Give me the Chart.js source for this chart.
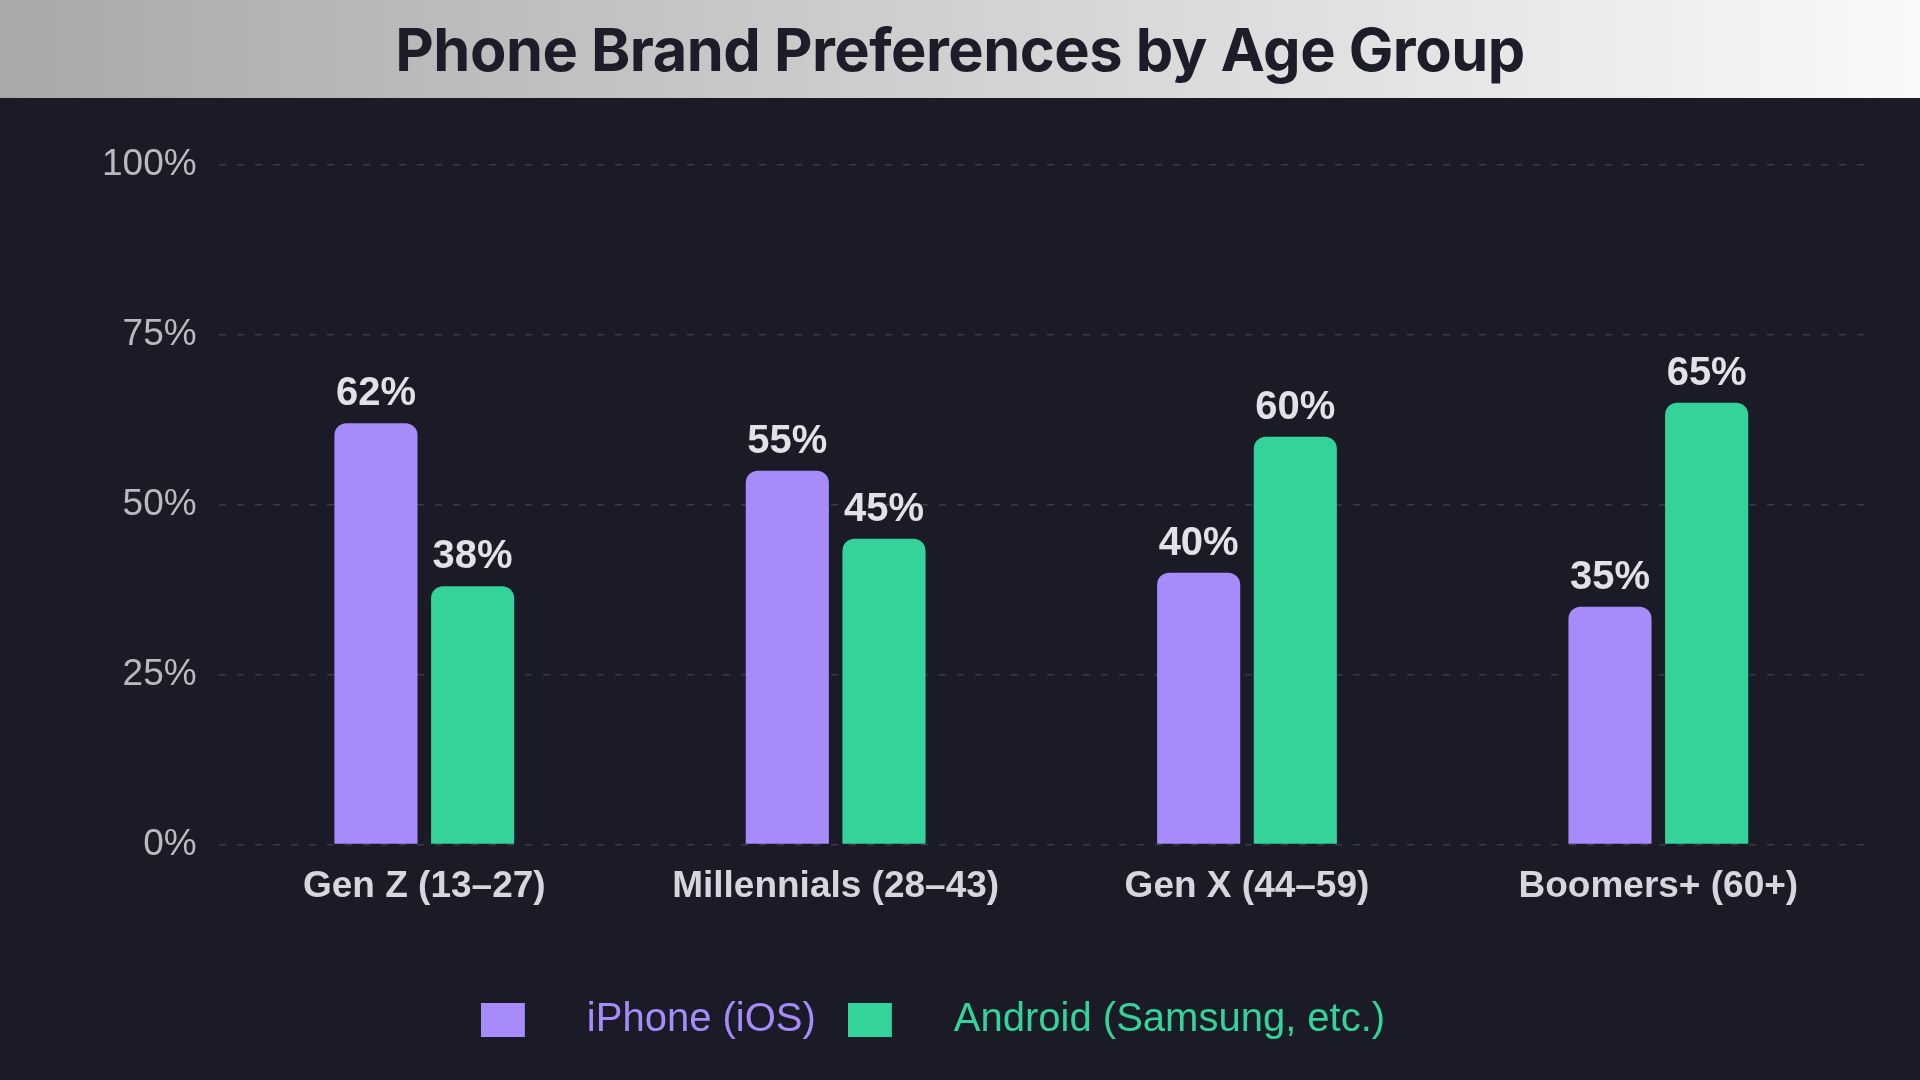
<!DOCTYPE html>
<html>
<head>
<meta charset="utf-8">
<title>Phone Brand Preferences by Age Group</title>
<script src="https://cdn.jsdelivr.net/npm/chart.js@4.4.1/dist/chart.umd.min.js"></script>
<style>
  html,body{margin:0;padding:0;width:1920px;height:1080px;overflow:hidden;background:#1b1b27;}
  #header{
    height:98px;
    background:linear-gradient(90deg,#a8a8a8 0%,#cdcdcd 45%,#f9f9f9 100%);
    display:flex;align-items:center;justify-content:center;
  }
  #header h1{
    margin:0;
    font-family:Inter,"Liberation Sans",sans-serif;
    font-weight:700;font-size:59.5px;color:#1d1d29;
    letter-spacing:-0.5px;
  }
  #wrap{position:relative;width:1920px;height:982px;}
</style>
</head>
<body>
<div id="header"><h1>Phone Brand Preferences by Age Group</h1></div>
<div id="wrap"><canvas id="chart"></canvas></div>

<script>
// data
const categories = ["Gen Z (13–27)", "Millennials (28–43)", "Gen X (44–59)", "Boomers+ (60+)"];
const seriesNames = ["iPhone (iOS)", "Android (Samsung, etc.)"];
const iphoneValues = [62, 55, 40, 35];
const androidValues = [38, 45, 60, 65];
const yTicks = [0, 25, 50, 75, 100];

const PURPLE = "#a78bfa";
const GREEN = "#34d399";
const FONT = "'Liberation Sans', Arial, sans-serif";

// legend swatch: coloured square on the left, blank space on the right
function makeSwatch(color){
  const c = document.createElement("canvas");
  c.width = 86; c.height = 34;
  const g = c.getContext("2d");
  g.fillStyle = color;
  g.fillRect(0, 0, 44, 34);
  return c;
}

// values above each bar
const valueLabels = {
  id: "valueLabels",
  afterDatasetsDraw(chart){
    const ctx = chart.ctx;
    ctx.save();
    ctx.font = "bold 40px " + FONT;
    ctx.fillStyle = "#e1e1e8";
    ctx.textAlign = "center";
    ctx.textBaseline = "alphabetic";
    chart.data.datasets.forEach((ds, i) => {
      chart.getDatasetMeta(i).data.forEach((bar, j) => {
        ctx.fillText(ds.data[j] + "%", bar.x, bar.y - 18);
      });
    });
    ctx.restore();
  }
};

// nudge the legend row a little left of the canvas centre
const legendShift = {
  id: "legendShift",
  afterLayout(chart){
    const lg = chart.legend;
    if (!lg) return;
    lg.left -= 39;
    lg.right -= 39;
  }
};

const ctx = document.getElementById("chart").getContext("2d");

new Chart(ctx, {
  type: "bar",
  data: {
    labels: categories,
    datasets: [
      { label: seriesNames[0], data: iphoneValues, backgroundColor: PURPLE },
      { label: seriesNames[1], data: androidValues, backgroundColor: GREEN }
    ]
  },
  plugins: [valueLabels, legendShift],
  options: {
    responsive: true,
    maintainAspectRatio: false,
    animation: false,
    layout: { padding: { top: 67, left: 80, right: 56, bottom: 30 } },
    datasets: {
      bar: {
        categoryPercentage: 0.47,
        barPercentage: 0.86,
        borderRadius: 12,
        borderSkipped: "start"
      }
    },
    scales: {
      x: {
        grid: { display: false, drawTicks: false },
        border: { display: false },
        afterFit: s => { s.height += 39; },
        ticks: {
          color: "#d6d6de",
          font: { family: FONT, size: 37, weight: "bold" },
          padding: 20
        }
      },
      y: {
        min: 0,
        max: 100,
        afterBuildTicks: axis => { axis.ticks = yTicks.map(v => ({ value: v })); },
        grid: { color: "#393a48", lineWidth: 1.5, drawTicks: false },
        border: { display: false, dash: [7, 11] },
        ticks: {
          color: "#b9b9c2",
          font: { family: FONT, size: 37 },
          padding: 22,
          callback: v => v + "%"
        }
      }
    },
    plugins: {
      tooltip: { enabled: false },
      legend: {
        position: "bottom",
        labels: {
          usePointStyle: true,
          pointStyleWidth: 86,
          boxHeight: 34,
          padding: 32,
          font: { family: FONT, size: 40 },
          generateLabels: chart => chart.data.datasets.map((ds, i) => ({
            text: ds.label,
            fillStyle: ds.backgroundColor,
            strokeStyle: ds.backgroundColor,
            lineWidth: 0,
            pointStyle: makeSwatch(ds.backgroundColor),
            fontColor: ds.backgroundColor,
            hidden: !chart.isDatasetVisible(i),
            datasetIndex: i
          }))
        }
      }
    }
  }
});
</script>
</body>
</html>
